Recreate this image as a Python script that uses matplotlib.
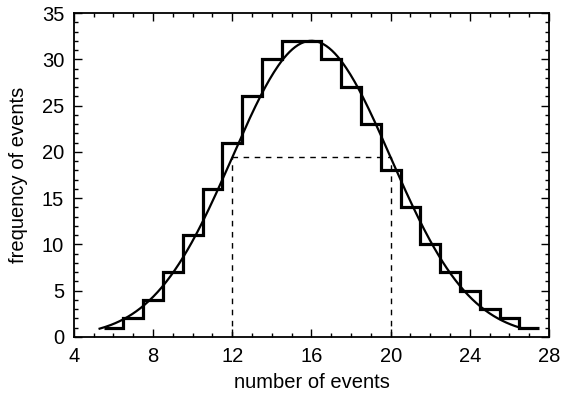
import numpy as np
import matplotlib
matplotlib.use("Agg")
import matplotlib.pyplot as plt
from matplotlib.ticker import MultipleLocator

plt.rcParams["font.family"] = ["Liberation Sans", "DejaVu Sans"]

# histogram: bin centres and counts
events = [6, 7, 8, 9, 10, 11, 12, 13, 14, 15, 16,
          17, 18, 19, 20, 21, 22, 23, 24, 25, 26, 27]
counts = [1, 2, 4, 7, 11, 16, 21, 26, 30, 32, 32,
          30, 27, 23, 18, 14, 10, 7, 5, 3, 2, 1]

# fitted gaussian
mean = 16.0
sigma = 4.0
amp = 32.0
curve_lo, curve_hi = 5.3, 26.7

fig = plt.figure(figsize=(5.66, 3.95), dpi=100)
ax = fig.add_axes([0.1305, 0.147, 0.8395, 0.82])

edges = np.array(events + [events[-1] + 1]) - 0.5
ax.stairs(counts, edges, color="black", linewidth=2.3, baseline=None)

xc = np.linspace(curve_lo, curve_hi, 300)
ax.plot(xc, amp * np.exp(-0.5 * ((xc - mean) / sigma) ** 2), color="black", lw=1.6)

# +/- one sigma markers
half = amp * np.exp(-0.5)
ax.plot([mean - sigma, mean - sigma], [0, half], "k--", lw=1, dashes=(4, 4))
ax.plot([mean + sigma, mean + sigma], [0, half], "k--", lw=1, dashes=(4, 4))
ax.plot([mean - sigma, mean + sigma], [half, half], "k--", lw=1, dashes=(4, 4))

ax.set_xlim(4, 28)
ax.set_ylim(0, 35)
ax.xaxis.set_major_locator(MultipleLocator(4))
ax.xaxis.set_minor_locator(MultipleLocator(1))
ax.yaxis.set_major_locator(MultipleLocator(5))
ax.yaxis.set_minor_locator(MultipleLocator(1))
ax.tick_params(which="both", direction="in", top=True, right=True, labelsize=14.5)
ax.tick_params(which="major", length=6, width=1)
ax.tick_params(which="minor", length=3, width=1)
ax.tick_params(axis="x", pad=7.5)
ax.tick_params(axis="y", pad=7)
for s in ax.spines.values():
    s.set_linewidth(1.3)

ax.set_xlabel("number of events", fontsize=14.5, labelpad=5)
ax.set_ylabel("frequency of events", fontsize=14.5, labelpad=10)

fig.savefig("out.png", dpi=100)
